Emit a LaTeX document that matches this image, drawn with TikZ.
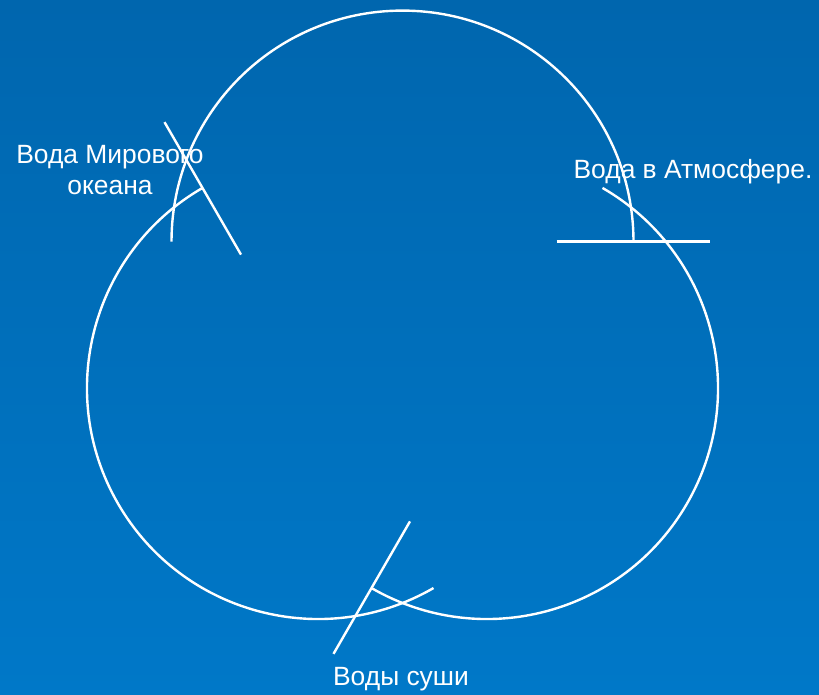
\documentclass[tikz,border=0pt]{standalone}
\usepackage{fontspec}
\setmainfont{Liberation Sans}
\usetikzlibrary{calc}
\definecolor{ctop}{HTML}{0066AE}
\definecolor{cbottom}{HTML}{0078C8}
\tikzset{
  every picture/.style={line width=2.4pt},
  cycle/.style={draw=white, line width=2.4pt},
  tick/.style={draw=white, line width=2.4pt},
  label/.style={text=white, font=\fontsize{26.4}{31}\selectfont, align=center, inner sep=0pt},
}

\begin{document}
\begin{tikzpicture}[x=1pt, y=1pt]
  \shade[top color=ctop, bottom color=cbottom] (0,0) rectangle (819,694);
  \coordinate (ocean) at (318,306);
  \coordinate (air) at (402.5,452.4);
  \coordinate (land) at (487,306);
  % air arc
  \draw[cycle] ($(air)+(180:231)$) arc[start angle=180, end angle=0, radius=231];
  \draw[tick] ($(air)+(0:154)$) -- ($(air)+(0:307)$);
  % ocean arc
  \draw[cycle] ($(ocean)+(300:231)$) arc[start angle=300, end angle=120, radius=231];
  \draw[tick] ($(ocean)+(120:154)$) -- ($(ocean)+(120:307)$);
  % land arc
  \draw[cycle] ($(land)+(60:231)$) arc[start angle=60, end angle=-120, radius=231];
  \draw[tick] ($(land)+(-120:154)$) -- ($(land)+(-120:307)$);
  % labels
  \node[label, anchor=base] (oceanlabel) at (110,499) {Вода Мирового\\океана};
  \node[label, anchor=base] (airlabel) at (693,515) {Вода в Атмосфере.};
  \node[label, anchor=base] (landlabel) at (401,9) {Воды суши};
\end{tikzpicture}
\end{document}
